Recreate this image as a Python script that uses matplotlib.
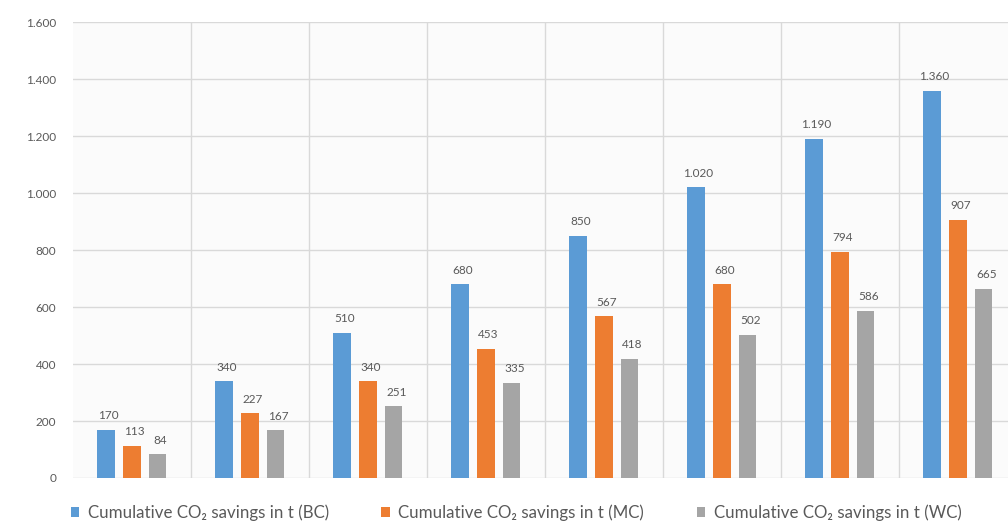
import numpy as np
import matplotlib.pyplot as plt
from matplotlib.ticker import FuncFormatter, MultipleLocator

plt.rcParams['font.family'] = ['Lato', 'DejaVu Sans']

# cumulative CO2 savings per year, three cases
bc = [170, 340, 510, 680, 850, 1020, 1190, 1360]
mc = [113, 227, 340, 453, 567, 680, 794, 907]
wc = [84, 167, 251, 335, 418, 502, 586, 665]
series_names = ['Cumulative CO\u2082 savings in t (BC)',
                'Cumulative CO\u2082 savings in t (MC)',
                'Cumulative CO\u2082 savings in t (WC)']
colors = ['#5B9BD5', '#ED7D31', '#A5A5A5']


def dotted(v, pos=None):
    return f'{int(v):,}'.replace(',', '.')


fig = plt.figure(figsize=(10.08, 5.27), dpi=100)
ax = fig.add_axes([0.0724, 0.093, 0.9365, 0.865])

x = np.arange(len(bc))
w = 0.145
step = 0.22
for i, (vals, c) in enumerate(zip([bc, mc, wc], colors)):
    pos = x + (i - 1) * step
    ax.bar(pos, vals, width=w, color=c, label=series_names[i], zorder=3)
    for px, v in zip(pos, vals):
        ax.text(px + 0.02, v + 30, dotted(v), ha='center', va='bottom',
                fontsize=8.5, color='#595959')

ax.set_xlim(-0.5, 7.5)
ax.set_ylim(0, 1600)
ax.yaxis.set_major_locator(MultipleLocator(200))
ax.yaxis.set_major_formatter(FuncFormatter(dotted))
ax.set_xticks([])
ax.set_xticks(np.arange(0.5, 7.5, 1), minor=True)
ax.grid(axis='y', which='major', color='#d9d9d9', lw=1, zorder=0)
ax.grid(axis='x', which='minor', color='#d9d9d9', lw=1, zorder=0)
ax.tick_params(axis='both', which='both', length=0)
ax.tick_params(axis='y', labelsize=8.5, labelcolor='#595959', pad=12)
for s in ax.spines.values():
    s.set_visible(False)
ax.set_facecolor('#fbfbfb')

handles, labels = ax.get_legend_handles_labels()
fig.legend(handles, labels, loc='lower center', bbox_to_anchor=(0.512, -0.018),
           ncol=3, frameon=False, fontsize=12.2, labelcolor='#595959',
           handlelength=0.5, handleheight=0.5, handletextpad=0.5,
           columnspacing=3.1)

fig.savefig('out.png', dpi=100)
